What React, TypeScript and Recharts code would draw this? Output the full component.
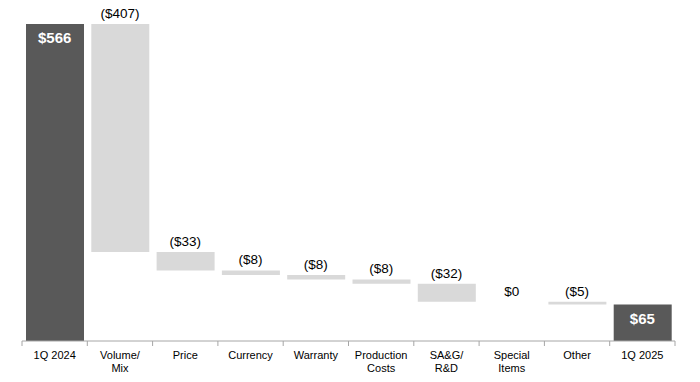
import React from "react";
import { ComposedChart, Bar, Line, XAxis, YAxis, Cell, LabelList } from "recharts";

const categories = ["1Q 2024", "Volume/\nMix", "Price", "Currency", "Warranty", "Production\nCosts", "SA&G/\nR&D", "Special\nItems", "Other", "1Q 2025"];
const changes = [566, -407, -33, -8, -8, -8, -32, 0, -5, 65];
const isTotal = [true, false, false, false, false, false, false, false, false, true];
const labels = ["$566", "($407)", "($33)", "($8)", "($8)", "($8)", "($32)", "$0", "($5)", "$65"];

const W = 700;
const H = 382;
const M = { top: 24, right: 25, bottom: 11, left: 22 };
const BAND = (W - M.left - M.right) / categories.length;
const DARK = "#595959";
const LIGHT = "#d9d9d9";
const AXIS = "#a6a6a6";
const FONT = "'Liberation Sans', Arial, sans-serif";

let running = 0;
const data = categories.map((name, i) => {
  let base = 0;
  let value = 0;
  if (isTotal[i]) {
    base = 0;
    value = changes[i];
    running = changes[i];
  } else {
    const next = running + changes[i];
    base = Math.min(running, next);
    value = Math.abs(changes[i]);
    running = next;
  }
  return { name, base, value, top: base + value, label: labels[i], total: isTotal[i] };
});

const Tick = (props: any) => {
  const { x, y, payload, index } = props;
  const lines = String(payload.value).split("\n");
  return (
    <g>
      <line x1={x - BAND / 2} x2={x - BAND / 2} y1={y} y2={y + 5} stroke={AXIS} strokeWidth={1} />
      {index === categories.length - 1 && (
        <line x1={x + BAND / 2} x2={x + BAND / 2} y1={y} y2={y + 5} stroke={AXIS} strokeWidth={1} />
      )}
      <text x={x} y={y + 18} textAnchor="middle" fontSize={11} fontFamily={FONT} fill="#000">
        {lines.map((l, k) => (
          <tspan key={k} x={x} dy={k === 0 ? 0 : 13.3}>
            {l}
          </tspan>
        ))}
      </text>
    </g>
  );
};

const renderLabel = (props: any) => {
  const { x, y, index } = props;
  const d = data[index];
  if (!d) return null;
  if (d.total) {
    return (
      <text x={x} y={y + 19} textAnchor="middle" fontSize={15} fontWeight="bold" fontFamily={FONT} fill="#fff">
        {d.label}
      </text>
    );
  }
  return (
    <text x={x} y={y - 6} textAnchor="middle" fontSize={13.5} fontFamily={FONT} fill="#000">
      {d.label}
    </text>
  );
};

export default function App() {
  return (
    <div style={{ position: "absolute", left: 0, top: 0, width: W, height: H, background: "#fff" }}>
      <ComposedChart width={W} height={H} data={data} margin={M} barSize={58}>
        <XAxis
          dataKey="name"
          interval={0}
          tickLine={false}
          tickSize={0}
          tickMargin={0}
          height={30}
          axisLine={{ stroke: AXIS, strokeWidth: 1 }}
          tick={<Tick />}
        />
        <YAxis hide domain={[0, 566]} />
        <Bar dataKey="base" stackId="a" fill="transparent" isAnimationActive={false} />
        <Bar dataKey="value" stackId="a" isAnimationActive={false}>
          {data.map((d, i) => (
            <Cell key={i} fill={d.total ? DARK : LIGHT} />
          ))}
        </Bar>
        <Line dataKey="top" stroke="none" dot={false} activeDot={false} isAnimationActive={false}>
          <LabelList dataKey="top" content={renderLabel} />
        </Line>
      </ComposedChart>
    </div>
  );
}
